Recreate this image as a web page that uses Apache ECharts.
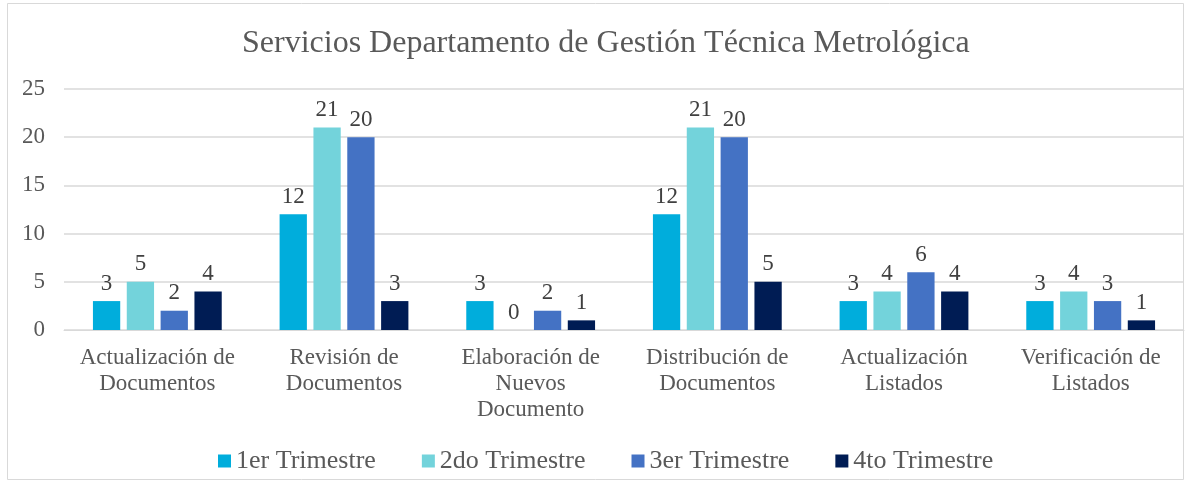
<!DOCTYPE html>
<html><head><meta charset="utf-8">
<script src="https://cdn.jsdelivr.net/npm/echarts@6/dist/echarts.min.js"></script>
<style>html,body{margin:0;padding:0;background:#fff}#c{width:1187px;height:483px}</style>
</head><body><div id="c"></div>
<script>
const categories = ["Actualización de\nDocumentos","Revisión de\nDocumentos","Elaboración de\nNuevos\nDocumento","Distribución de\nDocumentos","Actualización\nListados","Verificación de\nListados"];
const seriesNames = ["1er Trimestre","2do Trimestre","3er Trimestre","4to Trimestre"];
const q1 = [3,12,3,12,3,3];
const q2 = [5,21,0,21,4,4];
const q3 = [2,20,2,20,6,3];
const q4 = [4,3,1,5,4,1];
const yTicks = {min:0,max:25,interval:5};
const colors = ["#00ADDC","#73D3DB","#4472C4","#001C54"];
const font = "'Liberation Serif','Times New Roman',serif";
const data = [q1,q2,q3,q4];
const chart = echarts.init(document.getElementById('c'));
chart.setOption({
  animation:false,
  backgroundColor:'#fff',
  graphic:[{type:'rect',shape:{x:7.5,y:3.5,width:1176,height:476},style:{fill:'none',stroke:'#d9d9d9',lineWidth:1}}],
  title:{text:'Servicios Departamento de Gestión Técnica Metrológica',left:237,top:23,textStyle:{fontFamily:font,fontSize:32,fontWeight:'normal',color:'#595959'}},
  legend:{bottom:4,left:213,itemWidth:13,itemHeight:13,itemGap:46,icon:'rect',textStyle:{fontFamily:font,fontSize:26,color:'#595959'},data:seriesNames},
  grid:{left:64,right:3,top:89,bottom:153,containLabel:false},
  xAxis:{type:'category',data:categories,axisTick:{show:false},axisLine:{lineStyle:{color:'#d9d9d9'}},
    axisLabel:{fontFamily:font,fontSize:23,color:'#595959',lineHeight:26,margin:15,interval:0}},
  yAxis:{type:'value',min:yTicks.min,max:yTicks.max,interval:yTicks.interval,axisLine:{show:false},axisTick:{show:false},
    splitLine:{lineStyle:{color:'#d9d9d9',width:1.5}},axisLabel:{fontFamily:font,fontSize:23,color:'#595959',margin:19}},
  series:data.map((d,i)=>({name:seriesNames[i],type:'bar',data:d,barGap:'24%',barCategoryGap:'31%',
    itemStyle:{color:colors[i]},
    label:{show:true,position:'top',distance:6,fontFamily:font,fontSize:23,color:'#404040'}}))
});
</script></body></html>
